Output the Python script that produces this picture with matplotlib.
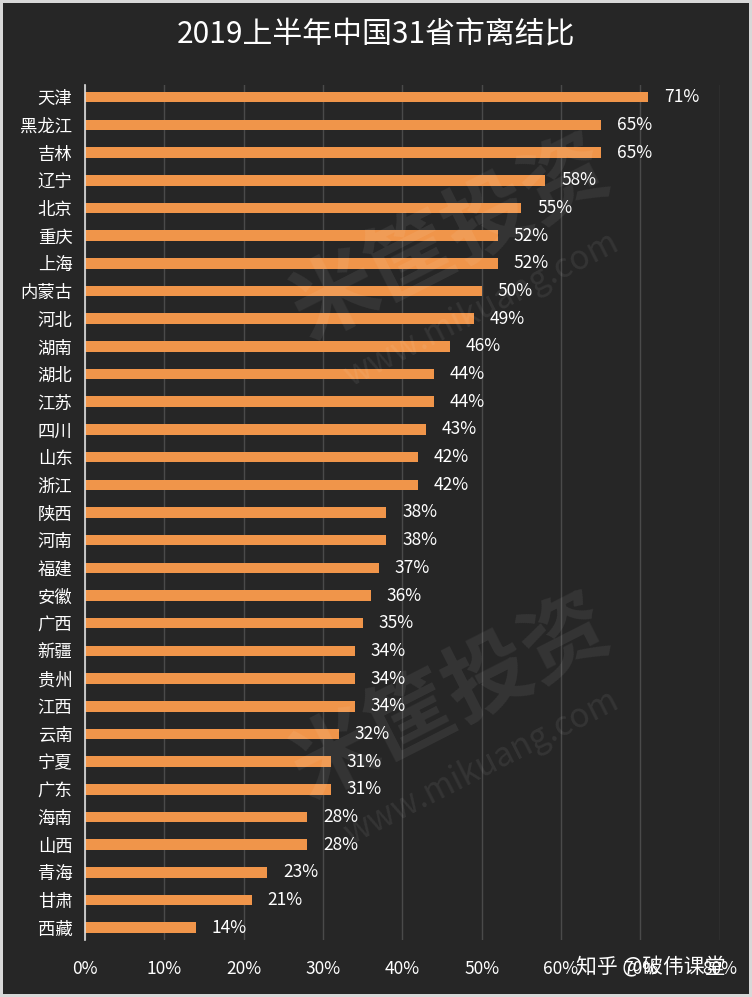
import matplotlib.pyplot as plt
import numpy as np

plt.rcParams['font.family'] = ['Noto Sans CJK SC', 'DejaVu Sans']

# 数据
provinces = ['天津', '黑龙江', '吉林', '辽宁', '北京', '重庆', '上海', '内蒙古',
             '河北', '湖南', '湖北', '江苏', '四川', '山东', '浙江', '陕西',
             '河南', '福建', '安徽', '广西', '新疆', '贵州', '江西', '云南',
             '宁夏', '广东', '海南', '山西', '青海', '甘肃', '西藏']
ratios = [71, 65, 65, 58, 55, 52, 52, 50, 49, 46, 44, 44, 43, 42, 42, 38,
          38, 37, 36, 35, 34, 34, 34, 32, 31, 31, 28, 28, 23, 21, 14]
xticks = [0, 10, 20, 30, 40, 50, 60, 70, 80]
xtick_labels = ['0%', '10%', '20%', '30%', '40%', '50%', '60%', '70%', '80%']

bg = '#262626'
bar_color = '#F0954A'

fig = plt.figure(figsize=(7.52, 9.97), dpi=100)
fig.patch.set_facecolor(bg)
fig.patch.set_edgecolor('#d8d8d8')
fig.patch.set_linewidth(4)

ax = fig.add_axes([0.113, 0.057, 0.844, 0.858])
ax.set_facecolor(bg)

y = np.arange(len(provinces))
ax.barh(y, ratios, height=0.38, color=bar_color, zorder=3)

for yi, v in zip(y, ratios):
    ax.text(v + 2.0, yi, f'{v}%', va='center', ha='left', color='white',
            fontsize=12.5, zorder=4)

ax.set_xlim(0, 80)
ax.set_ylim(len(provinces) - 0.55, -0.45)
ax.set_yticks(y)
ax.set_yticklabels(provinces, fontsize=12.5, color='white')
ax.set_xticks(xticks)
ax.set_xticklabels(xtick_labels, fontsize=12.5, color='white')
ax.tick_params(axis='both', length=0)
ax.tick_params(axis='y', pad=9)
ax.tick_params(axis='x', pad=14)

ax.grid(axis='x', color='#4a4a4a', linewidth=1, zorder=0)
for s in ['top', 'right', 'bottom']:
    ax.spines[s].set_visible(False)
ax.spines['left'].set_color('#e0e0e0')
ax.spines['left'].set_linewidth(1.2)
ax.spines['left'].set_zorder(5)

fig.text(0.5, 0.965, '2019上半年中国31省市离结比', ha='center', va='center',
         color='white', fontsize=21.5)

# 水印
for cy in [0.76, 0.30]:
    fig.text(0.60, cy, '米筐投资', ha='center', va='center', color='white',
             alpha=0.07, fontsize=62, fontweight='bold', rotation=27)
    fig.text(0.64, cy - 0.07, 'www.mikuang.com', ha='center', va='center',
             color='white', alpha=0.07, fontsize=24, rotation=27)

fig.text(0.865, 0.030, '知乎 @破伟课堂', ha='center', va='center',
         color='white', fontsize=15)

fig.savefig('out.png', dpi=100, facecolor=fig.get_facecolor(),
            edgecolor=fig.get_edgecolor())
